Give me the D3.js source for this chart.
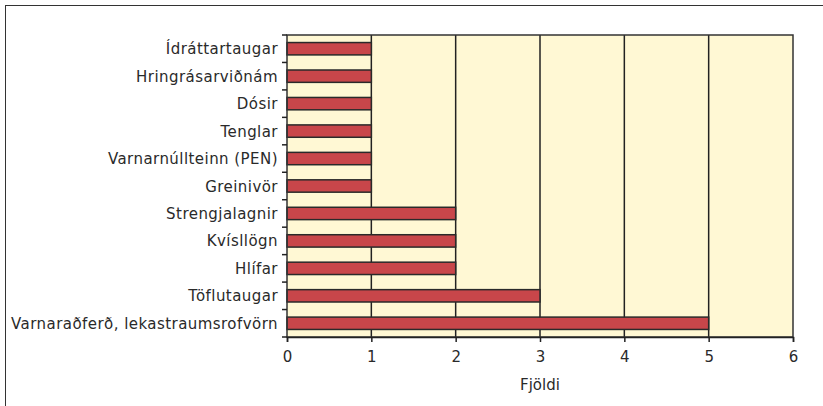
<!DOCTYPE html>
<html>
<head>
<meta charset="utf-8">
<script src="https://cdn.jsdelivr.net/npm/d3@7"></script>
<style>
  body { margin: 0; background: #fff; }
  text { font-family: "DejaVu Sans", sans-serif; fill: #2a2a2a; }
</style>
</head>
<body>
<div id="viz"></div>
<script>
// categories top to bottom, with counts
var categories = ["Ídráttartaugar", "Hringrásarviðnám", "Dósir", "Tenglar",
  "Varnarnúllteinn (PEN)", "Greinivör", "Strengjalagnir", "Kvísllögn",
  "Hlífar", "Töflutaugar", "Varnaraðferð, lekastraumsrofvörn"];
var counts = [1, 1, 1, 1, 1, 1, 2, 2, 2, 3, 5];
var xTicks = [0, 1, 2, 3, 4, 5, 6];
var xTitle = "Fjöldi";

var W = 823, H = 406;
var plotL = 287, plotR = 793, plotT = 35, plotB = 337;

var svg = d3.select("#viz").append("svg")
  .attr("width", W).attr("height", H);

// outer frame (runs off right and bottom edge)
svg.append("rect")
  .attr("x", 5.5).attr("y", 5.5)
  .attr("width", W + 10).attr("height", H + 10)
  .attr("fill", "none").attr("stroke", "#333").attr("stroke-width", 1);

var x = d3.scaleLinear().domain([0, 6]).range([plotL, plotR]);
var y = d3.scaleBand().domain(categories).range([plotT, plotB]).paddingInner(0.55).paddingOuter(0.275);
var yb = d3.scaleBand().domain(categories).range([plotT, plotB]);

// plot background
svg.append("rect")
  .attr("x", plotL).attr("y", plotT)
  .attr("width", plotR - plotL).attr("height", plotB - plotT)
  .attr("fill", "#fff8d4");

// gridlines
svg.append("g").selectAll("line")
  .data(xTicks.slice(1, -1))
  .enter().append("line")
  .attr("x1", function(d){ return x(d); })
  .attr("x2", function(d){ return x(d); })
  .attr("y1", plotT).attr("y2", plotB)
  .attr("stroke", "#222").attr("stroke-width", 1.5);

// bars
svg.append("g").selectAll("rect")
  .data(counts)
  .enter().append("rect")
  .attr("x", x(0))
  .attr("y", function(d, i){ return y(categories[i]); })
  .attr("width", function(d){ return x(d) - x(0); })
  .attr("height", y.bandwidth())
  .attr("fill", "#c8464a")
  .attr("stroke", "#2a2a2a").attr("stroke-width", 1.5);

// plot border
svg.append("rect")
  .attr("x", plotL).attr("y", plotT)
  .attr("width", plotR - plotL).attr("height", plotB - plotT)
  .attr("fill", "none").attr("stroke", "#333").attr("stroke-width", 1.5);

// x axis
var xAxis = svg.append("g")
  .attr("transform", "translate(0," + plotB + ")")
  .call(d3.axisBottom(x).tickValues(xTicks).tickSize(5).tickPadding(9).tickFormat(d3.format("d")));
xAxis.select(".domain").attr("stroke", "#222").attr("stroke-width", 1.5);
xAxis.selectAll(".tick line").attr("stroke", "#222").attr("stroke-width", 1.5);
xAxis.selectAll("text").style("font-size", "15px").attr("fill", "#2a2a2a")
  .style("font-family", "DejaVu Sans, sans-serif");

// y ticks at band boundaries
var bounds = categories.map(function(c){ return yb(c); }).concat([plotB]);
svg.append("g").selectAll("line")
  .data(bounds)
  .enter().append("line")
  .attr("x1", plotL - 5).attr("x2", plotL)
  .attr("y1", function(d){ return d; }).attr("y2", function(d){ return d; })
  .attr("stroke", "#222").attr("stroke-width", 1.5);

// category labels
svg.append("g").selectAll("text")
  .data(categories)
  .enter().append("text")
  .attr("x", plotL - 9)
  .attr("y", function(d){ return yb(d) + yb.bandwidth() / 2 + 1; })
  .attr("text-anchor", "end")
  .attr("dominant-baseline", "middle")
  .style("font-size", "15px")
  .style("letter-spacing", "0.45px")
  .text(function(d){ return d; });

// x title
svg.append("text")
  .attr("x", x(3)).attr("y", 390)
  .attr("text-anchor", "middle")
  .style("font-size", "15px")
  .text(xTitle);
</script>
</body>
</html>
